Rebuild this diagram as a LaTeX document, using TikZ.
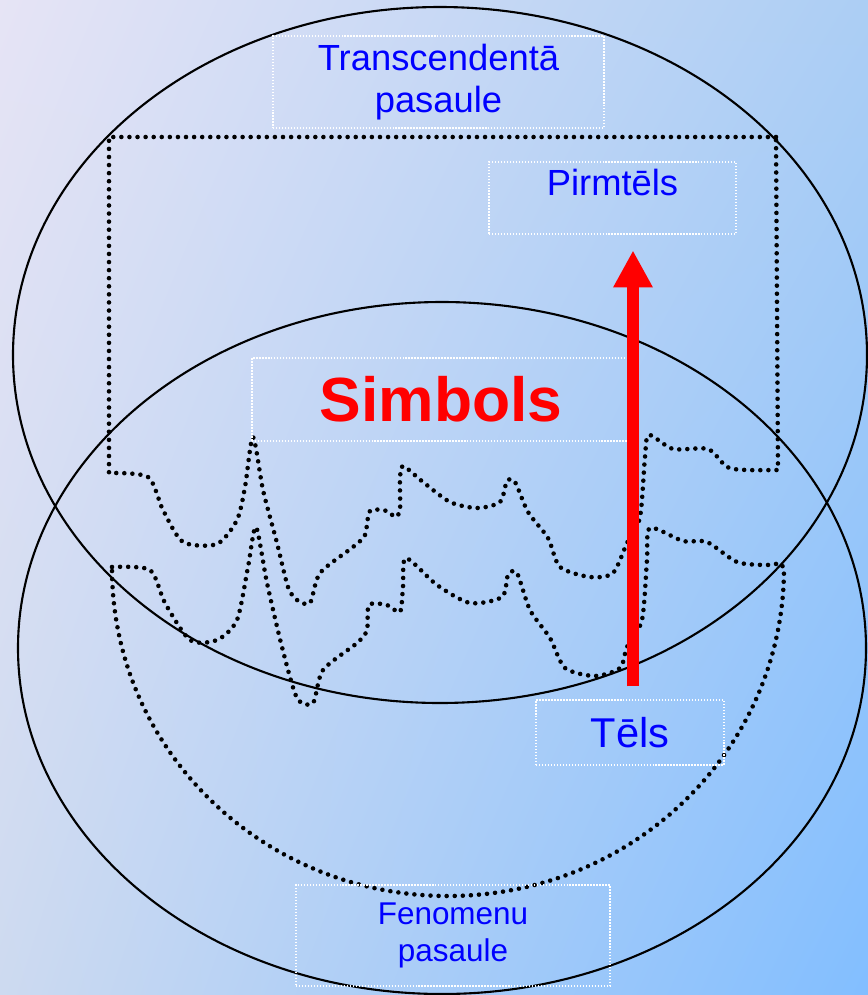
\documentclass[tikz,border=0pt]{standalone}
\usepackage{fontspec}
\setmainfont{Liberation Sans}
\usepackage{tikz}
\usetikzlibrary{arrows.meta, positioning, shadings}
\definecolor{FondoUL}{RGB}{230, 228, 245}
\definecolor{FondoUR}{RGB}{172, 206, 244}
\definecolor{FondoLL}{RGB}{205, 218, 240}
\definecolor{FondoLR}{RGB}{130, 190, 255}
\definecolor{Zils}{RGB}{0, 0, 255}
\definecolor{Sarkans}{RGB}{255, 0, 0}

\begin{document}
\begin{tikzpicture}[x=0.02cm, y=-0.02cm,
        ring/.style={draw=black, line width=1.2pt},
        dotline/.style={draw=black, line width=2.6pt, line cap=round, dash pattern=on 0pt off 4.6pt},
        lbl/.style={rectangle, draw=white, line width=0.7pt, dash pattern=on 0.8pt off 0.9pt, inner sep=0pt, align=center, text=Zils},
        bigarrow/.style={draw=Sarkans, line width=6.8pt, arrows={-{Triangle[length=21pt, width=21pt]}}, shorten <=7.4pt, shorten >=9pt}
    ]%
        % ================= FONS =================
        \useasboundingbox (0,0) rectangle (868,995);
        \shade[upper left=FondoUL, upper right=FondoUR, lower left=FondoLL, lower right=FondoLR] (0,0) rectangle (868,995);
        % ================= DIVAS PASAULES (ELIPSES) =================
        \draw[ring] (440,355) ellipse [x radius=427, y radius=348];
        \draw[ring] (442,648) ellipse [x radius=424, y radius=346];
        % ================= PUNKTĒTĀS FIGŪRAS =================
        % 1. Augšējā figūra (taisnstūris ar viļņotu apakšu)
        \draw[dotline] (776,137) -- (109,137) -- plot[smooth, tension=0.45] coordinates {
            (109,473) (148,477) (163,510) (183,542) (217,544) (237,520) (245,487) (253,437)
            (263,490) (277,543) (288,587) (297,600) (310,603) (320,573) (353,547) (365,535)
            (370,511) (387,511) (395,517) (400,510) (400,480) (403,466) (423,482) (450,502)
            (477,508) (500,502) (507,481) (515,482) (528,512) (548,538) (560,567) (590,577)
            (613,573) (627,543) (640,517) (645,457) (649,435) (673,449) (708,449) (727,467)
            (747,470) (778,470)} -- cycle;
        % 2. Apakšējā figūra (viļņota augša un pusovāla apakša)
        \draw[dotline] plot[smooth, tension=0.45] coordinates {
            (112,567) (150,570) (165,603) (190,640) (217,640) (237,620) (248,567) (256,527)
            (267,583) (282,647) (297,698) (313,703) (323,670) (357,643) (367,630) (369,605)
            (387,605) (400,612) (403,587) (406,558) (437,585) (470,603) (502,597) (508,575)
            (517,573) (530,610) (550,638) (565,668) (595,676) (620,668) (627,647) (642,620)
            (647,560) (650,528) (683,541) (707,542) (737,562) (767,565) (780,563)}
            -- (784,568) arc[start angle=0, end angle=180, x radius=336, y radius=328] -- cycle;
        % ================= UZRAKSTI =================
        \node[lbl, minimum width=6.62cm, minimum height=1.84cm, font=\fontsize{20.7}{23.8}\selectfont] (trans) at (438.5,82) {Transcendentā\\pasaule};
        \node[lbl, minimum width=4.94cm, minimum height=1.44cm, font=\fontsize{20.7}{23.8}\selectfont] (pirm) at (612.5,198) {Pirmtēls\\[-0.3em]\mbox{}};
        \node[lbl, minimum width=7.56cm, minimum height=1.66cm, text=Sarkans, font=\fontsize{35.5}{40}\selectfont\bfseries] (simb) at (441,399.5) {Simbols};
        \node[lbl, minimum width=3.76cm, minimum height=1.30cm, font=\fontsize{23.7}{27}\selectfont] (tels) at (630,732.5) {Tēls};
        \node[lbl, minimum width=6.28cm, minimum height=2.02cm, font=\fontsize{17.9}{21.5}\selectfont] (feno) at (453,935.5) {Fenomenu\\pasaule};
        % ================= BULTA NO TĒLA UZ PIRMTĒLU =================
        \coordinate (barx) at (633,0);
        \draw[bigarrow] (tels.north -| barx) -- (pirm.south -| barx);
    \end{tikzpicture}
\end{document}
